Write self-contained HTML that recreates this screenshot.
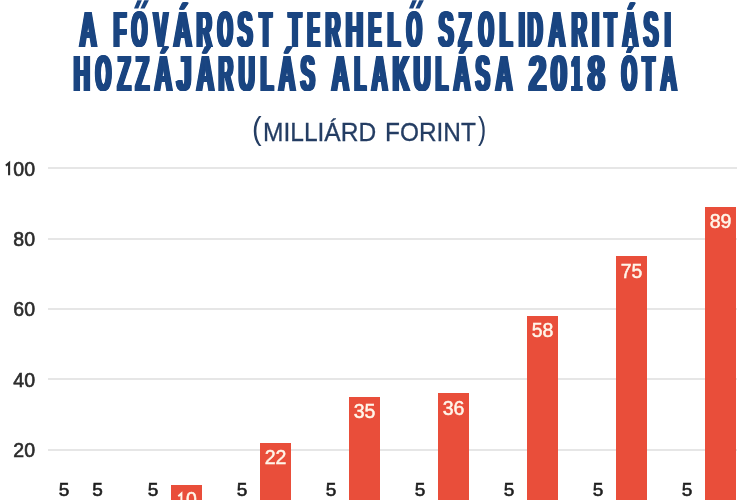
<!DOCTYPE html>
<html><head><meta charset="utf-8">
<style>
html,body{margin:0;padding:0;width:750px;height:500px;overflow:hidden;background:#fff;}
body{position:relative;font-family:"Liberation Sans",sans-serif;will-change:transform;}
.t{position:absolute;white-space:nowrap;color:#1a4581;font-weight:bold;font-size:50px;line-height:1;transform-origin:0 0;transform:scaleX(0.48);text-shadow:1px 0 0 #1a4581,2px 0 0 #1a4581,3px 0 0 #1a4581,4px 0 0 #1a4581,5px 0 0 #1a4581,6px 0 0 #1a4581,7px 0 0 #1a4581;}
.sub{position:absolute;white-space:nowrap;color:#243d63;font-size:26px;line-height:1;transform-origin:0 0;-webkit-text-stroke:0.3px #243d63;}
.par{position:absolute;white-space:nowrap;color:#243d63;font-size:32px;line-height:1;transform-origin:0 0;}
.yl{position:absolute;left:0;width:35px;text-align:right;color:#2b2b2b;font-size:19.5px;line-height:1;-webkit-text-stroke:0.6px #2b2b2b;}
.g{position:absolute;left:48px;width:689px;height:2px;background:#e6e6e6;}
.bar{position:absolute;width:31px;background:#e94e3a;}
.lb{position:absolute;width:31px;text-align:center;font-size:19.5px;line-height:1;}
.in{color:#fff6ea;-webkit-text-stroke:0.5px #fff6ea;}
.out{color:#1e1e1e;-webkit-text-stroke:0.6px #1e1e1e;font-size:19px;}
</style></head><body>
<div class="t" style="left:78.41px;top:5px;transform:scaleX(0.4716);text-shadow:0.97px 0 0 #1a4581,1.94px 0 0 #1a4581,2.91px 0 0 #1a4581,3.88px 0 0 #1a4581,4.85px 0 0 #1a4581,5.82px 0 0 #1a4581,6.78px 0 0 #1a4581">A</div>
<div class="t" style="left:111.75px;top:5px;transform:scaleX(0.4157);text-shadow:0.96px 0 0 #1a4581,1.92px 0 0 #1a4581,2.89px 0 0 #1a4581,3.85px 0 0 #1a4581,4.81px 0 0 #1a4581,5.77px 0 0 #1a4581,6.74px 0 0 #1a4581,7.70px 0 0 #1a4581">F</div>
<div class="t" style="left:130.20px;top:5px;transform:scaleX(0.4000);text-shadow:0.89px 0 0 #1a4581,1.78px 0 0 #1a4581,2.67px 0 0 #1a4581,3.56px 0 0 #1a4581,4.44px 0 0 #1a4581,5.33px 0 0 #1a4581,6.22px 0 0 #1a4581,7.11px 0 0 #1a4581,8.00px 0 0 #1a4581">O</div>
<div class="t" style="left:152.19px;top:5px;transform:scaleX(0.4246);text-shadow:0.94px 0 0 #1a4581,1.88px 0 0 #1a4581,2.83px 0 0 #1a4581,3.77px 0 0 #1a4581,4.71px 0 0 #1a4581,5.65px 0 0 #1a4581,6.59px 0 0 #1a4581,7.54px 0 0 #1a4581">V</div>
<div class="t" style="left:171.67px;top:5px;transform:scaleX(0.5015);text-shadow:0.91px 0 0 #1a4581,1.82px 0 0 #1a4581,2.73px 0 0 #1a4581,3.65px 0 0 #1a4581,4.56px 0 0 #1a4581,5.47px 0 0 #1a4581,6.38px 0 0 #1a4581">Á</div>
<div class="t" style="left:194.92px;top:5px;transform:scaleX(0.4252);text-shadow:0.94px 0 0 #1a4581,1.88px 0 0 #1a4581,2.82px 0 0 #1a4581,3.76px 0 0 #1a4581,4.70px 0 0 #1a4581,5.64px 0 0 #1a4581,6.59px 0 0 #1a4581,7.53px 0 0 #1a4581">R</div>
<div class="t" style="left:215.52px;top:5px;transform:scaleX(0.3885);text-shadow:0.92px 0 0 #1a4581,1.83px 0 0 #1a4581,2.75px 0 0 #1a4581,3.66px 0 0 #1a4581,4.58px 0 0 #1a4581,5.49px 0 0 #1a4581,6.41px 0 0 #1a4581,7.32px 0 0 #1a4581,8.24px 0 0 #1a4581">O</div>
<div class="t" style="left:236.32px;top:5px;transform:scaleX(0.4500);text-shadow:0.89px 0 0 #1a4581,1.78px 0 0 #1a4581,2.67px 0 0 #1a4581,3.56px 0 0 #1a4581,4.44px 0 0 #1a4581,5.33px 0 0 #1a4581,6.22px 0 0 #1a4581,7.11px 0 0 #1a4581">S</div>
<div class="t" style="left:257.80px;top:5px;transform:scaleX(0.3966);text-shadow:0.90px 0 0 #1a4581,1.79px 0 0 #1a4581,2.69px 0 0 #1a4581,3.59px 0 0 #1a4581,4.48px 0 0 #1a4581,5.38px 0 0 #1a4581,6.28px 0 0 #1a4581,7.17px 0 0 #1a4581,8.07px 0 0 #1a4581">T</div>
<div class="t" style="left:286.59px;top:5px;transform:scaleX(0.4169);text-shadow:0.96px 0 0 #1a4581,1.92px 0 0 #1a4581,2.88px 0 0 #1a4581,3.84px 0 0 #1a4581,4.80px 0 0 #1a4581,5.76px 0 0 #1a4581,6.72px 0 0 #1a4581,7.67px 0 0 #1a4581">T</div>
<div class="t" style="left:305.52px;top:5px;transform:scaleX(0.3646);text-shadow:0.98px 0 0 #1a4581,1.95px 0 0 #1a4581,2.93px 0 0 #1a4581,3.90px 0 0 #1a4581,4.88px 0 0 #1a4581,5.85px 0 0 #1a4581,6.83px 0 0 #1a4581,7.80px 0 0 #1a4581,8.78px 0 0 #1a4581">E</div>
<div class="t" style="left:323.97px;top:5px;transform:scaleX(0.4094);text-shadow:0.98px 0 0 #1a4581,1.95px 0 0 #1a4581,2.93px 0 0 #1a4581,3.91px 0 0 #1a4581,4.88px 0 0 #1a4581,5.86px 0 0 #1a4581,6.84px 0 0 #1a4581,7.82px 0 0 #1a4581">R</div>
<div class="t" style="left:344.31px;top:5px;transform:scaleX(0.4881);text-shadow:0.94px 0 0 #1a4581,1.87px 0 0 #1a4581,2.81px 0 0 #1a4581,3.75px 0 0 #1a4581,4.68px 0 0 #1a4581,5.62px 0 0 #1a4581,6.56px 0 0 #1a4581">H</div>
<div class="t" style="left:367.37px;top:5px;transform:scaleX(0.3788);text-shadow:0.94px 0 0 #1a4581,1.88px 0 0 #1a4581,2.82px 0 0 #1a4581,3.75px 0 0 #1a4581,4.69px 0 0 #1a4581,5.63px 0 0 #1a4581,6.57px 0 0 #1a4581,7.51px 0 0 #1a4581,8.45px 0 0 #1a4581">E</div>
<div class="t" style="left:385.55px;top:5px;transform:scaleX(0.4155);text-shadow:0.96px 0 0 #1a4581,1.93px 0 0 #1a4581,2.89px 0 0 #1a4581,3.85px 0 0 #1a4581,4.81px 0 0 #1a4581,5.78px 0 0 #1a4581,6.74px 0 0 #1a4581,7.70px 0 0 #1a4581">L</div>
<div class="t" style="left:405.22px;top:5px;transform:scaleX(0.3914);text-shadow:0.91px 0 0 #1a4581,1.82px 0 0 #1a4581,2.73px 0 0 #1a4581,3.63px 0 0 #1a4581,4.54px 0 0 #1a4581,5.45px 0 0 #1a4581,6.36px 0 0 #1a4581,7.27px 0 0 #1a4581,8.18px 0 0 #1a4581">O</div>
<div class="t" style="left:436.62px;top:5px;transform:scaleX(0.4500);text-shadow:0.89px 0 0 #1a4581,1.78px 0 0 #1a4581,2.67px 0 0 #1a4581,3.56px 0 0 #1a4581,4.44px 0 0 #1a4581,5.33px 0 0 #1a4581,6.22px 0 0 #1a4581,7.11px 0 0 #1a4581">S</div>
<div class="t" style="left:456.67px;top:5px;transform:scaleX(0.4182);text-shadow:0.96px 0 0 #1a4581,1.91px 0 0 #1a4581,2.87px 0 0 #1a4581,3.83px 0 0 #1a4581,4.78px 0 0 #1a4581,5.74px 0 0 #1a4581,6.70px 0 0 #1a4581,7.65px 0 0 #1a4581">Z</div>
<div class="t" style="left:476.52px;top:5px;transform:scaleX(0.3885);text-shadow:0.92px 0 0 #1a4581,1.83px 0 0 #1a4581,2.75px 0 0 #1a4581,3.66px 0 0 #1a4581,4.58px 0 0 #1a4581,5.49px 0 0 #1a4581,6.41px 0 0 #1a4581,7.32px 0 0 #1a4581,8.24px 0 0 #1a4581">O</div>
<div class="t" style="left:497.94px;top:5px;transform:scaleX(0.4194);text-shadow:0.95px 0 0 #1a4581,1.91px 0 0 #1a4581,2.86px 0 0 #1a4581,3.81px 0 0 #1a4581,4.77px 0 0 #1a4581,5.72px 0 0 #1a4581,6.68px 0 0 #1a4581,7.63px 0 0 #1a4581">L</div>
<div class="t" style="left:516.52px;top:5px;transform:scaleX(0.4552);text-shadow:0.88px 0 0 #1a4581,1.76px 0 0 #1a4581,2.64px 0 0 #1a4581,3.52px 0 0 #1a4581,4.39px 0 0 #1a4581,5.27px 0 0 #1a4581,6.15px 0 0 #1a4581,7.03px 0 0 #1a4581">I</div>
<div class="t" style="left:526.35px;top:5px;transform:scaleX(0.4163);text-shadow:0.96px 0 0 #1a4581,1.92px 0 0 #1a4581,2.88px 0 0 #1a4581,3.84px 0 0 #1a4581,4.80px 0 0 #1a4581,5.77px 0 0 #1a4581,6.73px 0 0 #1a4581,7.69px 0 0 #1a4581">D</div>
<div class="t" style="left:547.13px;top:5px;transform:scaleX(0.4597);text-shadow:0.99px 0 0 #1a4581,1.99px 0 0 #1a4581,2.98px 0 0 #1a4581,3.98px 0 0 #1a4581,4.97px 0 0 #1a4581,5.97px 0 0 #1a4581,6.96px 0 0 #1a4581">A</div>
<div class="t" style="left:569.62px;top:5px;transform:scaleX(0.4252);text-shadow:0.94px 0 0 #1a4581,1.88px 0 0 #1a4581,2.82px 0 0 #1a4581,3.76px 0 0 #1a4581,4.70px 0 0 #1a4581,5.64px 0 0 #1a4581,6.59px 0 0 #1a4581,7.53px 0 0 #1a4581">R</div>
<div class="t" style="left:590.42px;top:5px;transform:scaleX(0.5793);text-shadow:0.92px 0 0 #1a4581,1.84px 0 0 #1a4581,2.76px 0 0 #1a4581,3.68px 0 0 #1a4581,4.60px 0 0 #1a4581,5.52px 0 0 #1a4581">I</div>
<div class="t" style="left:602.81px;top:5px;transform:scaleX(0.3864);text-shadow:0.92px 0 0 #1a4581,1.84px 0 0 #1a4581,2.76px 0 0 #1a4581,3.68px 0 0 #1a4581,4.60px 0 0 #1a4581,5.52px 0 0 #1a4581,6.44px 0 0 #1a4581,7.36px 0 0 #1a4581,8.28px 0 0 #1a4581">T</div>
<div class="t" style="left:620.76px;top:5px;transform:scaleX(0.4299);text-shadow:0.93px 0 0 #1a4581,1.86px 0 0 #1a4581,2.79px 0 0 #1a4581,3.72px 0 0 #1a4581,4.65px 0 0 #1a4581,5.58px 0 0 #1a4581,6.51px 0 0 #1a4581,7.44px 0 0 #1a4581">Á</div>
<div class="t" style="left:642.04px;top:5px;transform:scaleX(0.4433);text-shadow:0.90px 0 0 #1a4581,1.80px 0 0 #1a4581,2.71px 0 0 #1a4581,3.61px 0 0 #1a4581,4.51px 0 0 #1a4581,5.41px 0 0 #1a4581,6.32px 0 0 #1a4581,7.22px 0 0 #1a4581">S</div>
<div class="t" style="left:662.57px;top:5px;transform:scaleX(0.4414);text-shadow:0.91px 0 0 #1a4581,1.81px 0 0 #1a4581,2.72px 0 0 #1a4581,3.63px 0 0 #1a4581,4.53px 0 0 #1a4581,5.44px 0 0 #1a4581,6.34px 0 0 #1a4581,7.25px 0 0 #1a4581">I</div>
<div class="t" style="left:71.52px;top:49px;transform:scaleX(0.4542);text-shadow:0.88px 0 0 #1a4581,1.76px 0 0 #1a4581,2.64px 0 0 #1a4581,3.52px 0 0 #1a4581,4.40px 0 0 #1a4581,5.28px 0 0 #1a4581,6.16px 0 0 #1a4581,7.04px 0 0 #1a4581">H</div>
<div class="t" style="left:94.20px;top:49px;transform:scaleX(0.4000);text-shadow:0.89px 0 0 #1a4581,1.78px 0 0 #1a4581,2.67px 0 0 #1a4581,3.56px 0 0 #1a4581,4.44px 0 0 #1a4581,5.33px 0 0 #1a4581,6.22px 0 0 #1a4581,7.11px 0 0 #1a4581,8.00px 0 0 #1a4581">O</div>
<div class="t" style="left:115.66px;top:49px;transform:scaleX(0.4291);text-shadow:0.93px 0 0 #1a4581,1.86px 0 0 #1a4581,2.80px 0 0 #1a4581,3.73px 0 0 #1a4581,4.66px 0 0 #1a4581,5.59px 0 0 #1a4581,6.53px 0 0 #1a4581,7.46px 0 0 #1a4581">Z</div>
<div class="t" style="left:134.04px;top:49px;transform:scaleX(0.4400);text-shadow:0.91px 0 0 #1a4581,1.82px 0 0 #1a4581,2.73px 0 0 #1a4581,3.64px 0 0 #1a4581,4.55px 0 0 #1a4581,5.45px 0 0 #1a4581,6.36px 0 0 #1a4581,7.27px 0 0 #1a4581">Z</div>
<div class="t" style="left:152.70px;top:49px;transform:scaleX(0.4836);text-shadow:0.95px 0 0 #1a4581,1.89px 0 0 #1a4581,2.84px 0 0 #1a4581,3.78px 0 0 #1a4581,4.73px 0 0 #1a4581,5.67px 0 0 #1a4581,6.62px 0 0 #1a4581">Á</div>
<div class="t" style="left:174.90px;top:49px;transform:scaleX(0.5389);text-shadow:0.99px 0 0 #1a4581,1.98px 0 0 #1a4581,2.97px 0 0 #1a4581,3.96px 0 0 #1a4581,4.95px 0 0 #1a4581,5.94px 0 0 #1a4581">J</div>
<div class="t" style="left:194.70px;top:49px;transform:scaleX(0.4836);text-shadow:0.95px 0 0 #1a4581,1.89px 0 0 #1a4581,2.84px 0 0 #1a4581,3.78px 0 0 #1a4581,4.73px 0 0 #1a4581,5.67px 0 0 #1a4581,6.62px 0 0 #1a4581">Á</div>
<div class="t" style="left:217.39px;top:49px;transform:scaleX(0.4031);text-shadow:0.99px 0 0 #1a4581,1.98px 0 0 #1a4581,2.98px 0 0 #1a4581,3.97px 0 0 #1a4581,4.96px 0 0 #1a4581,5.95px 0 0 #1a4581,6.95px 0 0 #1a4581,7.94px 0 0 #1a4581">R</div>
<div class="t" style="left:237.36px;top:49px;transform:scaleX(0.4467);text-shadow:0.90px 0 0 #1a4581,1.79px 0 0 #1a4581,2.69px 0 0 #1a4581,3.58px 0 0 #1a4581,4.48px 0 0 #1a4581,5.37px 0 0 #1a4581,6.27px 0 0 #1a4581,7.16px 0 0 #1a4581">U</div>
<div class="t" style="left:258.64px;top:49px;transform:scaleX(0.4194);text-shadow:0.95px 0 0 #1a4581,1.91px 0 0 #1a4581,2.86px 0 0 #1a4581,3.81px 0 0 #1a4581,4.77px 0 0 #1a4581,5.72px 0 0 #1a4581,6.68px 0 0 #1a4581,7.63px 0 0 #1a4581">L</div>
<div class="t" style="left:276.72px;top:49px;transform:scaleX(0.4627);text-shadow:0.99px 0 0 #1a4581,1.98px 0 0 #1a4581,2.96px 0 0 #1a4581,3.95px 0 0 #1a4581,4.94px 0 0 #1a4581,5.93px 0 0 #1a4581,6.92px 0 0 #1a4581">Á</div>
<div class="t" style="left:299.36px;top:49px;transform:scaleX(0.4267);text-shadow:0.94px 0 0 #1a4581,1.88px 0 0 #1a4581,2.81px 0 0 #1a4581,3.75px 0 0 #1a4581,4.69px 0 0 #1a4581,5.62px 0 0 #1a4581,6.56px 0 0 #1a4581,7.50px 0 0 #1a4581">S</div>
<div class="t" style="left:330.10px;top:49px;transform:scaleX(0.4806);text-shadow:0.95px 0 0 #1a4581,1.90px 0 0 #1a4581,2.85px 0 0 #1a4581,3.80px 0 0 #1a4581,4.76px 0 0 #1a4581,5.71px 0 0 #1a4581,6.66px 0 0 #1a4581">A</div>
<div class="t" style="left:353.49px;top:49px;transform:scaleX(0.3728);text-shadow:0.95px 0 0 #1a4581,1.91px 0 0 #1a4581,2.86px 0 0 #1a4581,3.81px 0 0 #1a4581,4.77px 0 0 #1a4581,5.72px 0 0 #1a4581,6.68px 0 0 #1a4581,7.63px 0 0 #1a4581,8.58px 0 0 #1a4581">L</div>
<div class="t" style="left:370.45px;top:49px;transform:scaleX(0.4418);text-shadow:0.91px 0 0 #1a4581,1.81px 0 0 #1a4581,2.72px 0 0 #1a4581,3.62px 0 0 #1a4581,4.53px 0 0 #1a4581,5.43px 0 0 #1a4581,6.34px 0 0 #1a4581,7.24px 0 0 #1a4581">A</div>
<div class="t" style="left:390.81px;top:49px;transform:scaleX(0.4589);text-shadow:1.00px 0 0 #1a4581,1.99px 0 0 #1a4581,2.99px 0 0 #1a4581,3.98px 0 0 #1a4581,4.98px 0 0 #1a4581,5.98px 0 0 #1a4581,6.97px 0 0 #1a4581">K</div>
<div class="t" style="left:411.59px;top:49px;transform:scaleX(0.4700);text-shadow:0.97px 0 0 #1a4581,1.95px 0 0 #1a4581,2.92px 0 0 #1a4581,3.89px 0 0 #1a4581,4.86px 0 0 #1a4581,5.84px 0 0 #1a4581,6.81px 0 0 #1a4581">U</div>
<div class="t" style="left:433.67px;top:49px;transform:scaleX(0.4078);text-shadow:0.98px 0 0 #1a4581,1.96px 0 0 #1a4581,2.94px 0 0 #1a4581,3.92px 0 0 #1a4581,4.90px 0 0 #1a4581,5.89px 0 0 #1a4581,6.87px 0 0 #1a4581,7.85px 0 0 #1a4581">L</div>
<div class="t" style="left:451.72px;top:49px;transform:scaleX(0.4627);text-shadow:0.99px 0 0 #1a4581,1.98px 0 0 #1a4581,2.96px 0 0 #1a4581,3.95px 0 0 #1a4581,4.94px 0 0 #1a4581,5.93px 0 0 #1a4581,6.92px 0 0 #1a4581">Á</div>
<div class="t" style="left:474.36px;top:49px;transform:scaleX(0.4267);text-shadow:0.94px 0 0 #1a4581,1.88px 0 0 #1a4581,2.81px 0 0 #1a4581,3.75px 0 0 #1a4581,4.69px 0 0 #1a4581,5.62px 0 0 #1a4581,6.56px 0 0 #1a4581,7.50px 0 0 #1a4581">S</div>
<div class="t" style="left:493.72px;top:49px;transform:scaleX(0.4627);text-shadow:0.99px 0 0 #1a4581,1.98px 0 0 #1a4581,2.96px 0 0 #1a4581,3.95px 0 0 #1a4581,4.94px 0 0 #1a4581,5.93px 0 0 #1a4581,6.92px 0 0 #1a4581">A</div>
<div class="t" style="left:526.87px;top:49px;transform:scaleX(0.6458);text-shadow:0.99px 0 0 #1a4581,1.98px 0 0 #1a4581,2.97px 0 0 #1a4581,3.96px 0 0 #1a4581,4.95px 0 0 #1a4581">2</div>
<div class="t" style="left:548.81px;top:49px;transform:scaleX(0.5937);text-shadow:0.90px 0 0 #1a4581,1.80px 0 0 #1a4581,2.70px 0 0 #1a4581,3.59px 0 0 #1a4581,4.49px 0 0 #1a4581,5.39px 0 0 #1a4581">0</div>
<div class="t" style="left:570.15px;top:49px;transform:scaleX(0.3527);text-shadow:0.91px 0 0 #1a4581,1.81px 0 0 #1a4581,2.72px 0 0 #1a4581,3.63px 0 0 #1a4581,4.54px 0 0 #1a4581,5.44px 0 0 #1a4581,6.35px 0 0 #1a4581,7.26px 0 0 #1a4581,8.17px 0 0 #1a4581,9.07px 0 0 #1a4581">1</div>
<div class="t" style="left:585.77px;top:49px;transform:scaleX(0.6222);text-shadow:0.86px 0 0 #1a4581,1.71px 0 0 #1a4581,2.57px 0 0 #1a4581,3.43px 0 0 #1a4581,4.29px 0 0 #1a4581,5.14px 0 0 #1a4581">8</div>
<div class="t" style="left:619.82px;top:49px;transform:scaleX(0.3914);text-shadow:0.91px 0 0 #1a4581,1.82px 0 0 #1a4581,2.73px 0 0 #1a4581,3.63px 0 0 #1a4581,4.54px 0 0 #1a4581,5.45px 0 0 #1a4581,6.36px 0 0 #1a4581,7.27px 0 0 #1a4581,8.18px 0 0 #1a4581">Ó</div>
<div class="t" style="left:641.40px;top:49px;transform:scaleX(0.3966);text-shadow:0.90px 0 0 #1a4581,1.79px 0 0 #1a4581,2.69px 0 0 #1a4581,3.59px 0 0 #1a4581,4.48px 0 0 #1a4581,5.38px 0 0 #1a4581,6.28px 0 0 #1a4581,7.17px 0 0 #1a4581,8.07px 0 0 #1a4581">T</div>
<div class="t" style="left:659.24px;top:49px;transform:scaleX(0.4478);text-shadow:0.89px 0 0 #1a4581,1.79px 0 0 #1a4581,2.68px 0 0 #1a4581,3.57px 0 0 #1a4581,4.47px 0 0 #1a4581,5.36px 0 0 #1a4581,6.25px 0 0 #1a4581,7.15px 0 0 #1a4581">A</div>
<svg style="position:absolute;left:0;top:0" width="750" height="100" fill="#1a4581"><polygon points="134.00,8.6 138.30,8.6 141.90,0.3 137.40,0.3"/><polygon points="140.40,8.6 144.70,8.6 148.90,0.3 144.30,0.3"/><polygon points="409.00,8.6 413.30,8.6 416.90,0.3 412.40,0.3"/><polygon points="415.40,8.6 419.70,8.6 423.90,0.3 419.30,0.3"/></svg>
<div class="sub" style="left:262.91px;top:118.5px;transform:scaleX(0.9436)">MILLIÁRD</div>
<div class="sub" style="left:384.62px;top:118.5px;transform:scaleX(0.9389)">FORINT</div>
<div class="par" style="left:252.20px;top:111.8px;transform:scaleX(0.9000)">(</div>
<div class="par" style="left:478.30px;top:111.8px;transform:scaleX(0.7778)">)</div>
<div class="g" style="top:167.3px"></div>
<div class="yl" style="top:159.7px">00</div>
<svg style="position:absolute;left:0;top:0" width="20" height="200"><path d="M9.1 175.3V162.9L5.9 165.6" fill="none" stroke="#2b2b2b" stroke-width="2.1" stroke-linejoin="miter"/></svg>
<div class="g" style="top:237.6px"></div>
<div class="yl" style="top:230.0px">80</div>
<div class="g" style="top:307.9px"></div>
<div class="yl" style="top:300.3px">60</div>
<div class="g" style="top:378.2px"></div>
<div class="yl" style="top:370.6px">40</div>
<div class="g" style="top:448.5px"></div>
<div class="yl" style="top:440.9px">20</div>
<div class="lb out" style="left:48.5px;top:480px">5</div>
<div class="bar" style="left:82px;top:502.2px;height:17.8px"></div>
<div class="lb out" style="left:82px;top:480px">5</div>
<div class="lb out" style="left:137.5px;top:480px">5</div>
<div class="bar" style="left:171px;top:484.6px;height:35.4px"></div>
<div class="lb in" style="left:176px;top:489.9px">0</div>
<svg style="position:absolute;left:170px;top:489.9px" width="20" height="20"><path d="M11.4 17V3.4L8.3 6.2" fill="none" stroke="#fff6ea" stroke-width="2" stroke-linejoin="miter"/></svg>
<div class="lb out" style="left:226.5px;top:480px">5</div>
<div class="bar" style="left:260px;top:442.5px;height:77.5px"></div>
<div class="lb in" style="left:260px;top:447.8px">22</div>
<div class="lb out" style="left:315.5px;top:480px">5</div>
<div class="bar" style="left:349px;top:396.8px;height:123.2px"></div>
<div class="lb in" style="left:349px;top:402.1px">35</div>
<div class="lb out" style="left:404.5px;top:480px">5</div>
<div class="bar" style="left:438px;top:393.3px;height:126.7px"></div>
<div class="lb in" style="left:438px;top:398.6px">36</div>
<div class="lb out" style="left:493.5px;top:480px">5</div>
<div class="bar" style="left:527px;top:315.9px;height:204.1px"></div>
<div class="lb in" style="left:527px;top:321.2px">58</div>
<div class="lb out" style="left:582.5px;top:480px">5</div>
<div class="bar" style="left:616px;top:256.2px;height:263.8px"></div>
<div class="lb in" style="left:616px;top:261.5px">75</div>
<div class="lb out" style="left:671.5px;top:480px">5</div>
<div class="bar" style="left:705px;top:207.0px;height:313.0px"></div>
<div class="lb in" style="left:705px;top:212.3px">89</div>
</body></html>
